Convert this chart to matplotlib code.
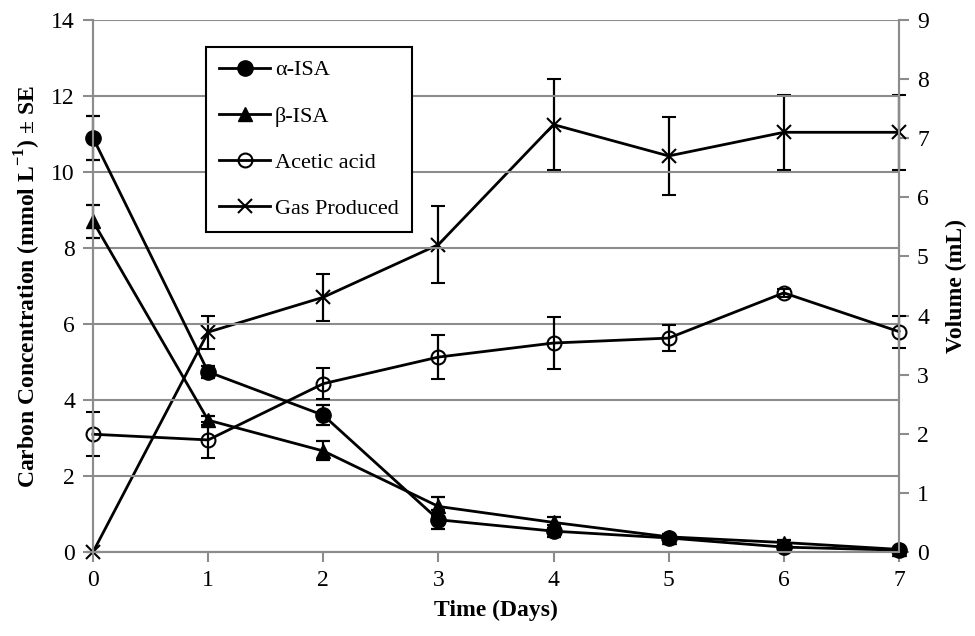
import numpy as np
import matplotlib
matplotlib.use('Agg')
import matplotlib.pyplot as plt

plt.rcParams['font.family'] = ['Liberation Serif', 'DejaVu Serif']
plt.rcParams['mathtext.fontset'] = 'custom'
plt.rcParams['mathtext.rm'] = 'Liberation Serif'
plt.rcParams['mathtext.bf'] = 'Liberation Serif:bold'

days = [0, 1, 2, 3, 4, 5, 6, 7]

alpha_isa = [10.9, 4.74, 3.6, 0.85, 0.55, 0.37, 0.13, 0.05]
alpha_err = [0.58, 0.15, 0.27, 0.25, 0.15, 0.08, 0.05, 0.03]

beta_isa = [8.7, 3.47, 2.66, 1.2, 0.78, 0.4, 0.25, 0.07]
beta_err = [0.43, 0.12, 0.25, 0.25, 0.15, 0.08, 0.06, 0.03]

acetic = [3.1, 2.95, 4.43, 5.13, 5.5, 5.63, 6.82, 5.8]
acetic_err = [0.58, 0.48, 0.4, 0.58, 0.68, 0.34, 0.1, 0.42]

gas = [0.0, 3.72, 4.31, 5.2, 7.23, 6.7, 7.1, 7.1]
gas_err = [0.0, 0.28, 0.4, 0.65, 0.77, 0.66, 0.63, 0.63]

labels = ['\u03b1-ISA', '\u03b2-ISA', 'Acetic acid', 'Gas Produced']

grey = '#8c8c8c'

fig = plt.figure(figsize=(9.75, 6.36), dpi=100)
ax = fig.add_axes([0.0954, 0.132, 0.8266, 0.8366])
ax2 = ax.twinx()

line_kw = dict(color='black', lw=2, elinewidth=1.6, capsize=5, capthick=1.6)


def draw(a, y, err, **kw):
    h = a.errorbar(days, y, yerr=err, **line_kw, **kw)
    for art in h.get_children():
        art.set_clip_on(False)
    return h


h1 = draw(ax, alpha_isa, alpha_err, marker='o', markersize=11)
h2 = draw(ax, beta_isa, beta_err, marker='^', markersize=10)
h3 = draw(ax, acetic, acetic_err, marker='o', markersize=10,
          markerfacecolor='none', markeredgewidth=1.5)
h4 = draw(ax2, gas, gas_err, marker='x', markersize=10, markeredgewidth=1.5)

ax.set_xlim(0, 7)
ax.set_ylim(0, 14)
ax2.set_ylim(0, 9)
ax.set_yticks(np.arange(0, 15, 2))
ax2.set_yticks(np.arange(0, 10, 1))
ax.set_xticks(days)

ax.grid(axis='y', color=grey, lw=1.5)
ax.set_axisbelow(True)

for a in (ax, ax2):
    a.spines['top'].set_visible(False)
    for s in ('left', 'right', 'bottom'):
        a.spines[s].set_color(grey)
        a.spines[s].set_linewidth(1.5)
    a.tick_params(labelsize=17, length=7, width=1.5, color=grey, direction='out', pad=6)

ax.set_xlabel('Time (Days)', fontsize=17, fontweight='bold', labelpad=6)
ax.set_ylabel('Carbon Concentration (mmol L$^{\\mathbf{-1}}$) \u00b1 SE',
              fontsize=17, fontweight='bold', labelpad=6)
ax2.set_ylabel('Volume (mL)', fontsize=17, fontweight='bold', labelpad=12)

leg = ax.legend([h1[0], h2[0], h3[0], h4[0]], labels,
                loc='upper left', bbox_to_anchor=(0.14, 0.95), fontsize=16,
                frameon=True, fancybox=False, edgecolor='black', framealpha=1,
                borderaxespad=0, handlelength=2.3, labelspacing=1.15,
                borderpad=0.6, handletextpad=0.2)
leg.get_frame().set_linewidth(1.5)
leg.set_zorder(10)
ax.set_zorder(ax2.get_zorder() + 1)
ax.patch.set_visible(False)

fig.savefig('out.png', dpi=100)
